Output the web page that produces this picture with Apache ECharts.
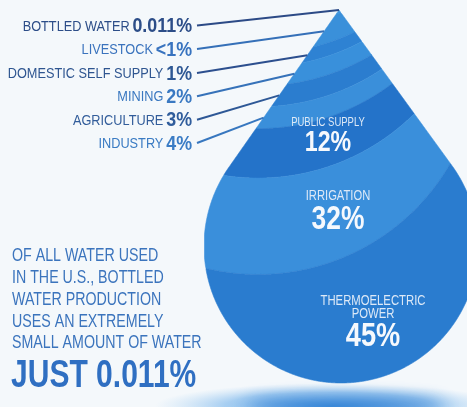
<!DOCTYPE html>
<html><head><meta charset="utf-8">
<script src="https://cdn.jsdelivr.net/npm/echarts@6/dist/echarts.min.js"></script>
<style>html,body{margin:0;padding:0;background:#f4f8fb;}#c{width:467px;height:407px;}</style>
</head><body><div id="c"></div>
<script>
// ---------- DATA ----------
const categories = ['BOTTLED WATER','LIVESTOCK','DOMESTIC SELF SUPPLY','MINING','AGRICULTURE','INDUSTRY','PUBLIC SUPPLY','IRRIGATION','THERMOELECTRIC POWER'];
const values = [0.011, 0.9, 1, 2, 3, 4, 12, 32, 45];
const valueLabels = ['0.011%','<1%','1%','2%','3%','4%','12%','32%','45%'];
const introLines = ['OF ALL WATER USED','IN THE U.S., BOTTLED','WATER PRODUCTION','USES AN EXTREMELY','SMALL AMOUNT OF WATER'];
const headline = 'JUST 0.011%';

// ---------- LAYOUT / STYLE ----------
const W = 467, H = 407;
const TIP = [339, 10], CEN = [341, 246], RAD = 137;
const ARC_R = 222, ARC_X = 258;
const FONT = "'Liberation Sans',Arial,sans-serif";
const bandColors = ['#3f97df','#3a90da','#2e82d3','#3990db','#2b7dcf','#3a8fda','#2473c9','#3a8fdb','#2a7ccf'];
const rowY = [26.5, 50, 74, 97.3, 120.7, 144];
const rowNameColor = ['#2c4d88','#3a73bd','#2e5590','#3a78c0','#315c9a','#3a7bc3'];
const rowPctColor  = ['#2c4d88','#3873bf','#2e5894','#3a79c2','#305d9c','#3a7cc5'];
const lineColor    = ['#2c4a86','#3570b8','#2c4f8e','#3672b9','#2e5896','#3777bf'];
const labelRight = 192, lineStartX = 197;
const innerLabels = {
  6: {x: 328, lines: [['PUBLIC SUPPLY', 123]], pctY: 143, nameSize: 12.5, nameScale: 0.76, pctSize: 29},
  7: {x: 338, lines: [['IRRIGATION', 196]], pctY: 220, nameSize: 14, nameScale: 0.8, pctSize: 33},
  8: {x: 373, lines: [['THERMOELECTRIC', 301], ['POWER', 314]], pctY: 337, nameSize: 14.5, nameScale: 0.78, pctSize: 34}
};

// ---------- DROP GEOMETRY ----------
const tp = (function(){
  const dx = TIP[0]-CEN[0], dy = TIP[1]-CEN[1];
  const d = Math.hypot(dx, dy), b = Math.acos(RAD/d), t0 = Math.atan2(dy, dx);
  return [t0-b, t0+b].map(a => [CEN[0]+RAD*Math.cos(a), CEN[1]+RAD*Math.sin(a)]);
})();
const PL = tp[0], PR = tp[1];
function circTop(x){ return CEN[1]-Math.sqrt(Math.max(0, RAD*RAD-(x-CEN[0])**2)); }
function circBot(x){ return CEN[1]+Math.sqrt(Math.max(0, RAD*RAD-(x-CEN[0])**2)); }
function dropTop(x){
  if (x < PL[0] || x > PR[0]) return circTop(x);
  if (x <= TIP[0]) return TIP[1] + (PL[1]-TIP[1])*(TIP[0]-x)/(TIP[0]-PL[0]);
  return TIP[1] + (PR[1]-TIP[1])*(x-TIP[0])/(PR[0]-TIP[0]);
}
function dropBot(x){ return circBot(x); }
function arcF(x){ return Math.sqrt(Math.max(0, ARC_R*ARC_R-(x-ARC_X)**2)); }
function uOf(x, y){ return y - arcF(x); }

// area-proportional thresholds
const thresholds = (function(){
  const us = [];
  for (let x = CEN[0]-RAD; x < CEN[0]+RAD; x += 1) {
    const xc = x+0.5, t = dropTop(xc), b = dropBot(xc);
    for (let y = Math.floor(TIP[1]); y < CEN[1]+RAD; y += 1) {
      const yc = y+0.5;
      if (yc >= t && yc <= b) us.push(uOf(xc, yc));
    }
  }
  us.sort((a,b)=>a-b);
  const total = values.reduce((a,b)=>a+b, 0);
  const th = [-Infinity]; let cum = 0;
  for (let i = 0; i < values.length-1; i++) {
    cum += values[i];
    th.push(us[Math.min(us.length-1, Math.floor(cum/total*us.length))]);
  }
  th.push(Infinity);
  return th;
})();

function bandPolygon(i){
  const lo = thresholds[i], hi = thresholds[i+1];
  const up = [], dn = [];
  const step = 0.5;
  for (let x = CEN[0]-RAD; x <= CEN[0]+RAD+1e-6; x += step) {
    const fx = arcF(x);
    const a = Math.max(dropTop(x), lo+fx), b = Math.min(dropBot(x), hi+fx);
    if (b > a) { up.push([x, a]); dn.push([x, b]); }
  }
  if (i === 0) {
    const k = up.findIndex(p => p[0] > TIP[0]);
    if (k >= 0) up.splice(k, 0, [TIP[0], TIP[1]]);
  }
  return up.concat(dn.reverse());
}
function edgePoint(i){
  const uT = uOf(TIP[0], TIP[1]);
  const lo = i === 0 ? uT : thresholds[i], hi = thresholds[i+1];
  const target = i === 0 ? uT : (lo+hi)/2;
  let s0 = 0, s1 = 1;
  for (let k = 0; k < 40; k++) {
    const s = (s0+s1)/2;
    const x = TIP[0]+s*(PL[0]-TIP[0]), y = TIP[1]+s*(PL[1]-TIP[1]);
    if (uOf(x,y) < target) s0 = s; else s1 = s;
  }
  return [TIP[0]+s0*(PL[0]-TIP[0]), TIP[1]+s0*(PL[1]-TIP[1])];
}

function txt(pos, scale, style){
  return {type: 'text', z2: 50, x: pos[0], y: pos[1], scaleX: scale, scaleY: 1,
    style: Object.assign({x: 0, y: 0, verticalAlign: 'middle'}, style)};
}

function renderItem(params, api){
  const i = params.dataIndex;
  const pts = bandPolygon(i).map(p => api.coord(p));
  const children = [{
    type: 'polygon', shape: {points: pts},
    style: {fill: bandColors[i], stroke: bandColors[i], lineWidth: 0.6}
  }];
  if (i < 6) {
    const e = api.coord(edgePoint(i));
    const s = api.coord([lineStartX, rowY[i]-1]);
    children.push({type: 'line', z2: 50, shape: {x1: s[0], y1: s[1], x2: e[0], y2: e[1]},
      style: {stroke: lineColor[i], lineWidth: 2}});
    children.push(txt(api.coord([labelRight, rowY[i]]), 0.85, {
      align: 'right',
      text: '{n|' + categories[i] + '} {p|' + valueLabels[i] + '}',
      rich: {
        n: {fontFamily: FONT, fontSize: 15, fill: rowNameColor[i], verticalAlign: 'middle'},
        p: {fontFamily: FONT, fontSize: 21, fontWeight: 'bold', fill: rowPctColor[i], verticalAlign: 'middle'}
      }
    }));
  } else {
    const L = innerLabels[i];
    L.lines.forEach(([t, y]) => {
      children.push(txt(api.coord([L.x, y]), L.nameScale, {align: 'center',
        text: t, fontFamily: FONT, fontSize: L.nameSize, fill: '#dde9f7'}));
    });
    children.push(txt(api.coord([L.x, L.pctY]), 0.8, {align: 'center',
      text: valueLabels[i], fontFamily: FONT, fontSize: L.pctSize, fontWeight: 'bold', fill: '#f6f9fd'}));
  }
  return {type: 'group', children};
}

const chart = echarts.init(document.getElementById('c'), null, {renderer: 'canvas'});
const OFF = 600;
const graphic = [
  {type: 'circle', z: 0, x: 330, y: 406, scaleX: 1, scaleY: 0.13, shape: {cx: 0, cy: 0, r: 175},
   style: {fill: new echarts.graphic.RadialGradient(0.5, 0.5, 0.5, [
     {offset: 0, color: 'rgba(60,145,225,0.85)'}, {offset: 0.6, color: 'rgba(90,165,232,0.5)'}, {offset: 1, color: 'rgba(150,200,242,0)'}])}},
  {type: 'ellipse', z: 1, shape: {cx: 345, cy: 407 + OFF, rx: 100, ry: 7},
   style: {fill: 'rgba(35,120,210,1)', shadowBlur: 18, shadowOffsetY: -OFF, shadowColor: 'rgba(32,115,205,0.95)'}}
];
introLines.forEach((t, k) => graphic.push({type: 'text', z: 5, x: 12, y: 256.5 + k*21.7, scaleX: 0.79,
  style: {text: t, x: 0, y: 0, verticalAlign: 'middle', fontFamily: FONT, fontSize: 18, fill: '#3b74bd'}}));
graphic.push({type: 'text', z: 5, x: 11, y: 376, scaleX: 0.77,
  style: {text: headline, x: 0, y: 0, verticalAlign: 'middle', fontFamily: FONT, fontSize: 39, fontWeight: 'bold', fill: '#2f6fc2'}});

chart.setOption({
  backgroundColor: '#f4f8fb',
  animation: false,
  grid: {left: 0, right: 0, top: 0, bottom: 0},
  xAxis: {type: 'value', min: 0, max: W, show: false},
  yAxis: {type: 'value', min: 0, max: H, inverse: true, show: false},
  graphic,
  series: [{
    type: 'custom', renderItem, z: 3,
    data: categories.map((c, i) => ({name: c, value: [i, values[i]]})),
    encode: {x: -1, y: -1}
  }]
});
</script></body></html>
